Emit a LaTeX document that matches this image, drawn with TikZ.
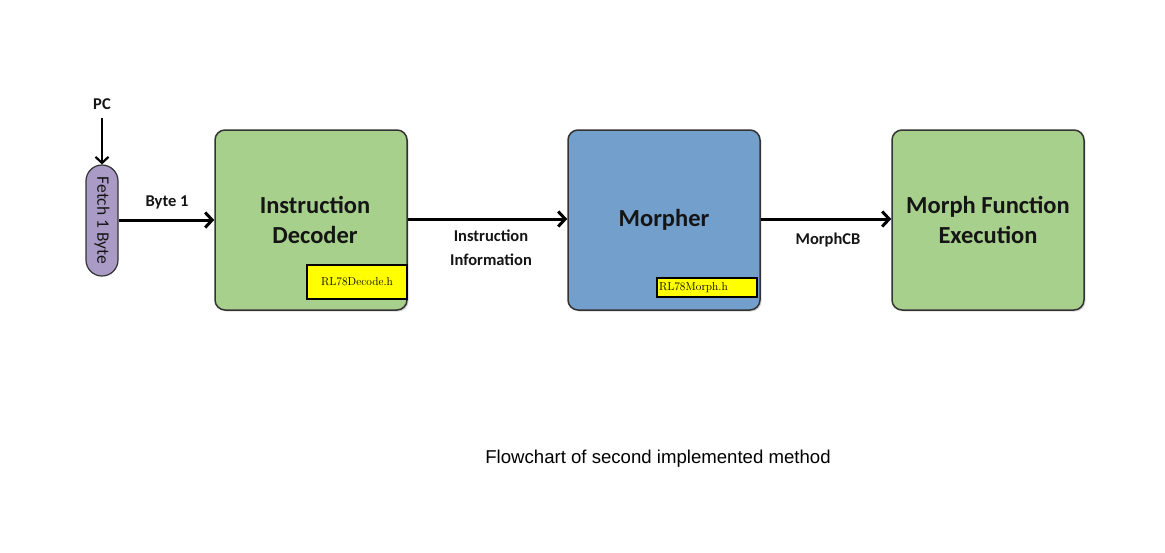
\documentclass[tikz,border=0pt]{standalone}
\usepackage{fontspec}
\newfontfamily\calfont{Carlito}
\newfontfamily\capfont{Liberation Sans}
\usetikzlibrary{arrows.meta,shadows}
\definecolor{boxgreen}{HTML}{A8D08D}
\definecolor{boxblue}{HTML}{729FCB}
\definecolor{pillpurple}{HTML}{AA9BC6}
\definecolor{edgegray}{HTML}{333333}
\definecolor{txt}{HTML}{151515}
\definecolor{tagyellow}{HTML}{FFFF00}
\tikzset{
  bigbox/.style={draw=edgegray, line width=1.5pt, rounded corners=10pt,
    minimum width=192pt, minimum height=180pt, inner sep=0pt, align=center,
    font=\calfont\bfseries\fontsize{24.5}{30}\selectfont, text=txt,
    drop shadow={opacity=0.3, shadow xshift=1.5pt, shadow yshift=-1.5pt}},
  pill/.style={draw=edgegray, line width=1.2pt, fill=pillpurple, rounded corners=16pt,
    minimum width=32pt, minimum height=111pt, inner sep=0pt,
    font=\calfont\fontsize{17.5}{18}\selectfont, text=txt},
  tag/.style={draw=black, line width=1.4pt, fill=tagyellow, inner sep=0pt,
    font=\fontsize{11.5}{13}\selectfont, text=black},
  lbl/.style={font=\calfont\bfseries\fontsize{16.5}{24}\selectfont, text=txt, align=center, inner sep=0pt},
  flow/.style={line width=3pt, black, -{Straight Barb[length=7pt,width=15pt]}},
  pcflow/.style={line width=2.2pt, black, -{Straight Barb[length=6pt,width=13pt]}}
}
\begin{document}
\begin{tikzpicture}[x=1pt,y=-1pt]
\useasboundingbox (0,0) rectangle (1165,552);
\fill[white] (0,0) rectangle (1165,552);

\node[lbl] (pc) at (102,104) {PC};
\node[pill] (fetch) at (102,220.5) {\rotatebox{-90}{Fetch 1 Byte}};

\node[bigbox, fill=boxgreen] (dec) at (311,220) {\hspace*{8pt}Instruction\\\hspace*{8pt}Decoder};
\node[bigbox, fill=boxblue] (mor) at (664,220) {Morpher};
\node[bigbox, fill=boxgreen] (mfe) at (988,220) {Morph Function\\Execution};

\node[tag, minimum width=100pt, minimum height=34pt] (dtag) at (357,282) {RL78Decode.h};
\node[tag, minimum width=100pt, minimum height=19pt, text width=96pt, align=left] (mtag) at (707,287.5) {RL78Morph.h};

\draw[pcflow] (pc.south |- 0,118) -- (fetch.north -| pc.south);
\draw[flow] (fetch.east |- 0,220) -- (dec.west);
\draw[flow] (dec.east |- 0,219) -- (mor.west |- 0,219);
\draw[flow] (mor.east |- 0,219) -- (mfe.west |- 0,219);

\node[lbl] (byte) at (167,202) {Byte 1};
\node[lbl] (info) at (491,248) {Instruction\\Information};
\node[lbl] (mcb) at (828,240) {MorphCB};

\node[font=\capfont\fontsize{18.6}{22}\selectfont, text=black] (cap) at (658,459) {Flowchart of second implemented method};
\end{tikzpicture}
\end{document}
